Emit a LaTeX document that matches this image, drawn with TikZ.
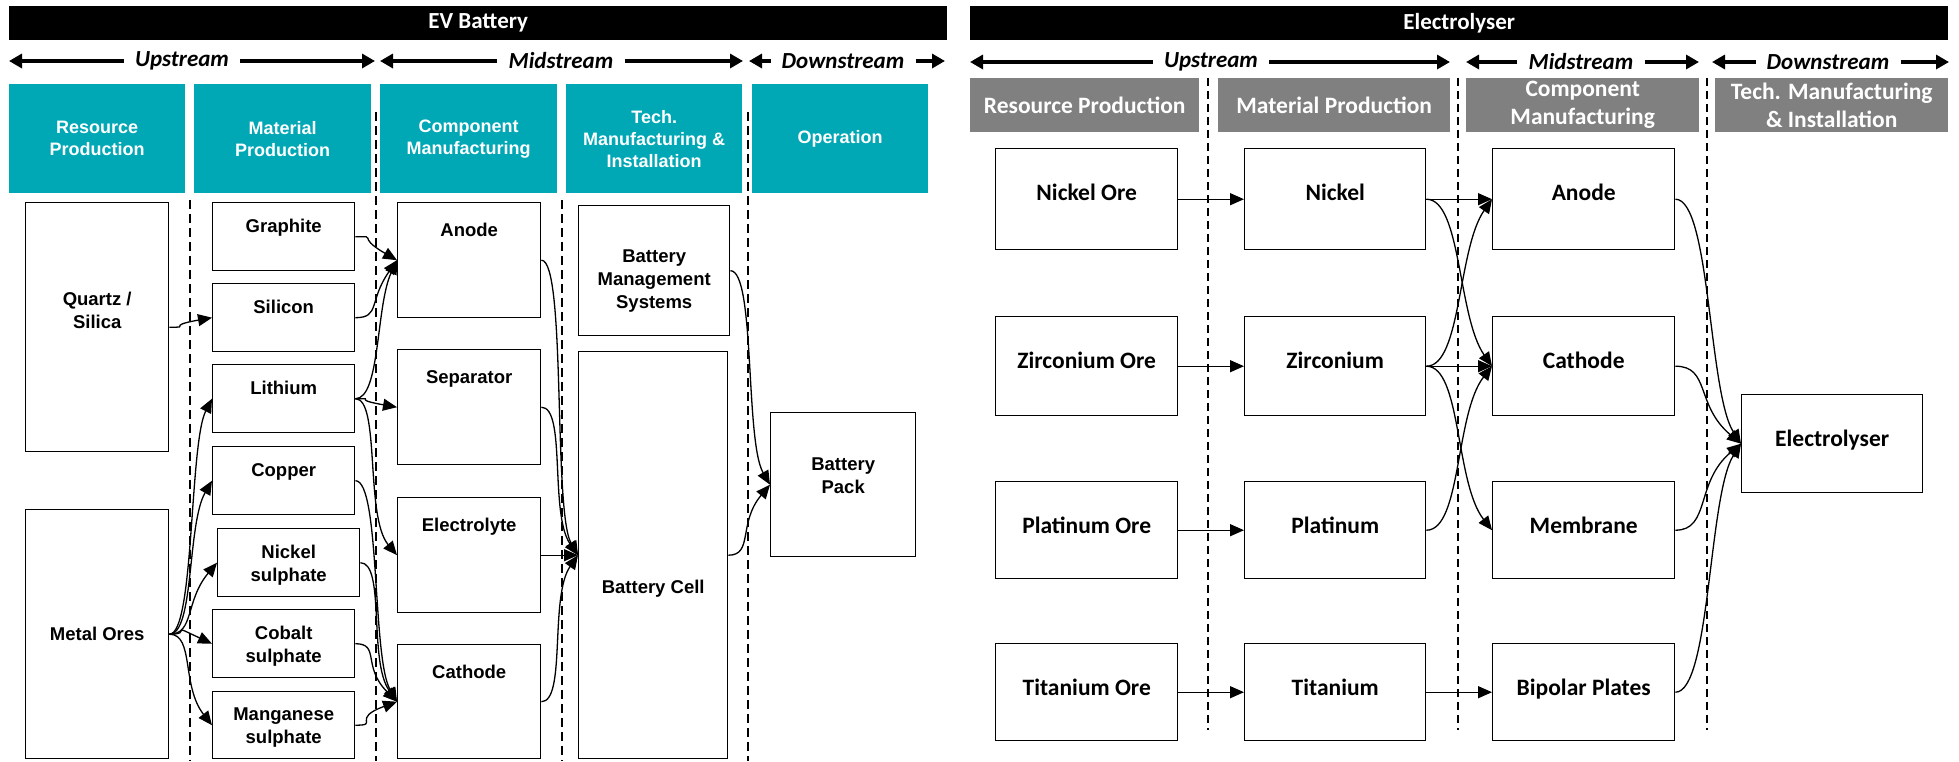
\documentclass[tikz,border=0pt]{standalone}
\usepackage{fontspec}
\setmainfont{Liberation Sans}
\newfontfamily\calfont{Carlito}
\usetikzlibrary{arrows.meta,positioning}
\definecolor{TealClr}{rgb}{0,0.659,0.714}
\definecolor{GreyClr}{rgb}{0.5,0.5,0.5}
\newcommand{\boxfont}{\fontsize{18.5}{23}\selectfont\bfseries}
\newcommand{\headfont}{\fontsize{18}{22}\selectfont\bfseries}
\newcommand{\calbox}{\calfont\fontsize{23.5}{24}\selectfont\bfseries}
\newcommand{\calhead}{\calfont\fontsize{23.5}{28}\selectfont\bfseries}
\newcommand{\titlefont}{\calfont\fontsize{23}{24}\selectfont\bfseries}
\newcommand{\streamfont}{\calfont\fontsize{23}{24}\selectfont\bfseries\itshape}

\tikzset{
  box/.style={draw, line width=1.4pt, anchor=north west, inner sep=0pt, align=center},
  tag/.style 2 args={label={[anchor=north, yshift=-#1]north:#2}},
  bar/.style={fill=black, text=white, anchor=north west, inner sep=0pt, font=\titlefont},
  head/.style={fill=#1, text=white, anchor=north west, inner sep=0pt, align=center},
  stream/.style={font=\streamfont, inner xsep=11pt, inner ysep=0pt},
  span/.style={line width=4pt, -{Triangle[length=13pt,width=14pt]}},
  flow/.style={line width=1.3pt, -{Triangle[length=14pt,width=12pt]}, out=0},
  lflow/.style={flow, in=#1, out distance=25pt, in distance=50pt},
  lflow/.default=180,
  rflow/.style={flow, in=#1, out distance=35pt, in distance=60pt},
  rflow/.default=180,
  divide/.style={line width=1.3pt, dash pattern=on 9pt off 5pt},
}

\begin{document}
\begin{tikzpicture}[x=1pt,y=-1pt]
\useasboundingbox (0,0) rectangle (1959,761);
\fill[white] (0,0) rectangle (1959,761);

% ---------------- EV battery ----------------
\node[bar, minimum width=938pt, minimum height=34pt] (evbar) at (9,6) {EV Battery};

\node[stream] (evup) at (182,61) {Upstream};
\coordinate (evup1) at (9,61);
\coordinate (evup2) at (375,61);
\draw[span] (evup.west) -- (evup1);
\draw[span] (evup.east) -- (evup2);
\node[stream] (evmid) at (561,61) {Midstream};
\coordinate (evmid1) at (380,61);
\coordinate (evmid2) at (743,61);
\draw[span] (evmid.west) -- (evmid1);
\draw[span] (evmid.east) -- (evmid2);
\node[stream] (evdown) at (843,61) {Downstream};
\coordinate (evdown1) at (749,61);
\coordinate (evdown2) at (945,61);
\draw[span] (evdown.west) -- (evdown1);
\draw[span] (evdown.east) -- (evdown2);

\begin{scope}[every node/.append style={font=\headfont}]
\node[head=TealClr, minimum width=176pt, minimum height=109pt] (hres) at (9,84) {Resource\\Production};
\node[head=TealClr, minimum width=177pt, minimum height=109pt] (hmat) at (194,84) {Material\\Production};
\node[head=TealClr, minimum width=177pt, minimum height=109pt] (hcomp) at (380,84) {Component\\Manufacturing};
\node[head=TealClr, minimum width=176pt, minimum height=109pt] (htech) at (566,84) {Tech.\\Manufacturing \&\\Installation};
\node[head=TealClr, minimum width=176pt, minimum height=109pt] (hop) at (752,84) {Operation};
\end{scope}

\draw[divide] (190,200) -- (190,761);
\draw[divide] (376,112) -- (376,761);
\draw[divide] (562,200) -- (562,761);
\draw[divide] (748,112) -- (748,761);

\begin{scope}[every label/.style={font=\boxfont, align=center, inner sep=0pt}, font=\boxfont]
\node[box, minimum width=143pt, minimum height=249pt, tag={90pt}{Quartz /\\Silica}] (qz) at (25,202) {};
\node[box, minimum width=143pt, minimum height=249pt] (ores) at (25,509) {Metal Ores};

\node[box, minimum width=142pt, minimum height=68pt, tag={17pt}{Graphite}] (graph) at (212,202) {};
\node[box, minimum width=142pt, minimum height=68pt, tag={17pt}{Silicon}] (sil) at (212,283) {};
\node[box, minimum width=142pt, minimum height=68pt, tag={17pt}{Lithium}] (lith) at (212,364) {};
\node[box, minimum width=142pt, minimum height=68pt, tag={17pt}{Copper}] (cu) at (212,446) {};
\node[box, minimum width=142pt, minimum height=68pt, tag={17pt}{Nickel\\sulphate}] (niS) at (217,528) {};
\node[box, minimum width=142pt, minimum height=68pt, tag={17pt}{Cobalt\\sulphate}] (coS) at (212,609) {};
\node[box, minimum width=142pt, minimum height=67pt, tag={17pt}{Manganese\\sulphate}] (mnS) at (212,691) {};

\node[box, minimum width=143pt, minimum height=115pt, tag={21pt}{Anode}] (anode) at (397,202) {};
\node[box, minimum width=143pt, minimum height=115pt, tag={21pt}{Separator}] (sep) at (397,349) {};
\node[box, minimum width=143pt, minimum height=115pt, tag={21pt}{Electrolyte}] (elyte) at (397,497) {};
\node[box, minimum width=143pt, minimum height=114pt, tag={21pt}{Cathode}] (cath) at (397,644) {};

\node[box, minimum width=151pt, minimum height=130pt, tag={45pt}{Battery\\Management\\Systems}] (bms) at (578,205) {};
\node[box, minimum width=149pt, minimum height=407pt, tag={229pt}{Battery Cell}] (cell) at (578,351) {};
\node[box, minimum width=145pt, minimum height=144pt, tag={46pt}{Battery\\Pack}] (pack) at (770,412) {};
\end{scope}

\draw[lflow=190] (qz.east) to (sil.west);
\draw[lflow=243] (ores.east) to (lith.west);
\draw[lflow=240] (ores.east) to (cu.west);
\draw[lflow=230] (ores.east) to (niS.west);
\draw[lflow=155] (ores.east) to (coS.west);
\draw[lflow=128] (ores.east) to (mnS.west);

\draw[lflow=150] (graph.east) to (anode.west);
\draw[lflow=235] (sil.east) to (anode.west);
\draw[lflow=245] (lith.east) to (anode.west);
\draw[lflow=170] (lith.east) to (sep.west);
\draw[lflow=130] (lith.east) to (elyte.west);
\draw[lflow=120] (cu.east) to (cath.west);
\draw[lflow=125] (niS.east) to (cath.west);
\draw[lflow=135] (coS.east) to (cath.west);
\draw[lflow=200] (mnS.east) to (cath.west);

\draw[lflow=120] (anode.east) to (cell.west);
\draw[lflow=125] (sep.east) to (cell.west);
\draw[lflow] (elyte.east) to (cell.west);
\draw[lflow=235] (cath.east) to (cell.west);

\draw[lflow=120] (bms.east) to (pack.west);
\draw[lflow=230] (cell.east) to (pack.west);

% ---------------- Electrolyser ----------------
\node[bar, minimum width=978pt, minimum height=34pt] (elbar) at (970,6) {Electrolyser};

\node[stream] (elup) at (1211,62) {Upstream};
\coordinate (elup1) at (970,62);
\coordinate (elup2) at (1450,62);
\draw[span] (elup.west) -- (elup1);
\draw[span] (elup.east) -- (elup2);
\node[stream] (elmid) at (1581,62) {Midstream};
\coordinate (elmid1) at (1466,62);
\coordinate (elmid2) at (1699,62);
\draw[span] (elmid.west) -- (elmid1);
\draw[span] (elmid.east) -- (elmid2);
\node[stream] (eldown) at (1828,62) {Downstream};
\coordinate (eldown1) at (1712,62);
\coordinate (eldown2) at (1949,62);
\draw[span] (eldown.west) -- (eldown1);
\draw[span] (eldown.east) -- (eldown2);

\begin{scope}[every node/.append style={font=\calhead}]
\node[head=GreyClr, minimum width=229pt, minimum height=54pt] (gres) at (970,78) {Resource Production};
\node[head=GreyClr, minimum width=232pt, minimum height=54pt] (gmat) at (1218,78) {Material Production};
\node[head=GreyClr, minimum width=233pt, minimum height=54pt] (gcomp) at (1466,78) {Component\\Manufacturing};
\node[head=GreyClr, minimum width=233pt, minimum height=54pt] (gtech) at (1715,78) {Tech. Manufacturing\\\& Installation};
\end{scope}

\draw[divide, dash pattern=on 8pt off 5pt] (1208,78) -- (1208,730);
\draw[divide, dash pattern=on 8pt off 5pt] (1458,78) -- (1458,730);
\draw[divide, dash pattern=on 8pt off 5pt] (1707,78) -- (1707,730);

\begin{scope}[every label/.style={font=\calbox, align=center, inner sep=0pt}]
\node[box, minimum width=182pt, minimum height=101pt, tag={36pt}{Nickel Ore}] (niOre) at (995,148) {};
\node[box, minimum width=182pt, minimum height=99pt, tag={36pt}{Zirconium Ore}] (zrOre) at (995,316) {};
\node[box, minimum width=182pt, minimum height=97pt, tag={36pt}{Platinum Ore}] (ptOre) at (995,481) {};
\node[box, minimum width=182pt, minimum height=97pt, tag={36pt}{Titanium Ore}] (tiOre) at (995,643) {};

\node[box, minimum width=181pt, minimum height=101pt, tag={36pt}{Nickel}] (ni) at (1244,148) {};
\node[box, minimum width=181pt, minimum height=99pt, tag={36pt}{Zirconium}] (zr) at (1244,316) {};
\node[box, minimum width=181pt, minimum height=97pt, tag={36pt}{Platinum}] (pt) at (1244,481) {};
\node[box, minimum width=181pt, minimum height=97pt, tag={36pt}{Titanium}] (ti) at (1244,643) {};

\node[box, minimum width=182pt, minimum height=101pt, tag={36pt}{Anode}] (an) at (1492,148) {};
\node[box, minimum width=182pt, minimum height=99pt, tag={36pt}{Cathode}] (ca) at (1492,316) {};
\node[box, minimum width=182pt, minimum height=97pt, tag={36pt}{Membrane}] (mem) at (1492,481) {};
\node[box, minimum width=182pt, minimum height=97pt, tag={36pt}{Bipolar Plates}] (bpp) at (1492,643) {};

\node[box, minimum width=181pt, minimum height=98pt, tag={36pt}{Electrolyser}] (elyser) at (1741,394) {};
\end{scope}

\draw[rflow] (niOre.east) to (ni.west);
\draw[rflow] (zrOre.east) to (zr.west);
\draw[rflow] (ptOre.east) to (pt.west);
\draw[rflow] (tiOre.east) to (ti.west);

\draw[rflow] (ni.east) to (an.west);
\draw[rflow=125] (ni.east) to (ca.west);
\draw[rflow=235] (zr.east) to (an.west);
\draw[rflow] (zr.east) to (ca.west);
\draw[rflow=128] (zr.east) to (mem.west);
\draw[rflow=232] (pt.east) to (ca.west);
\draw[rflow] (ti.east) to (bpp.west);

\draw[rflow=123] (an.east) to (elyser.west);
\draw[rflow=140] (ca.east) to (elyser.west);
\draw[rflow=220] (mem.east) to (elyser.west);
\draw[rflow=237] (bpp.east) to (elyser.west);
\end{tikzpicture}
\end{document}
